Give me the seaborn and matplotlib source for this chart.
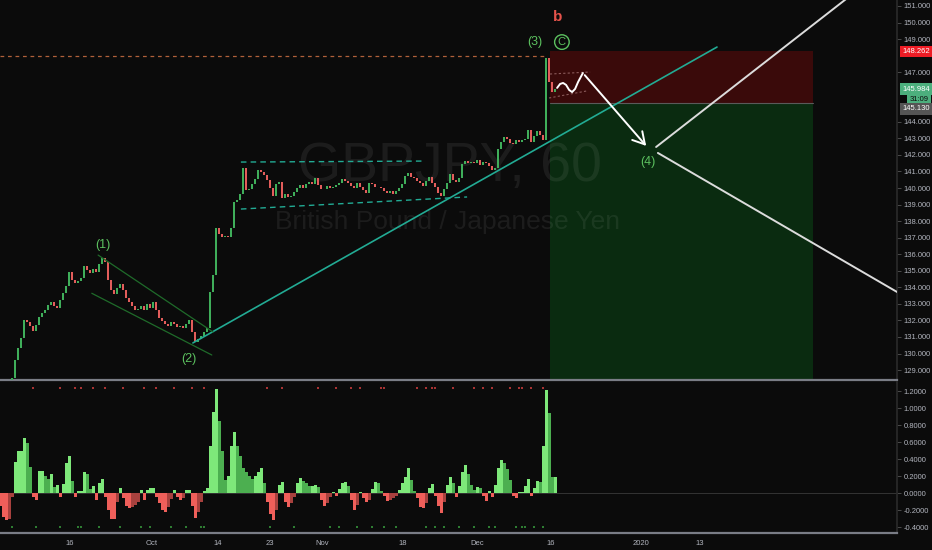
import numpy as np
import pandas as pd
import matplotlib
matplotlib.use("Agg")
import matplotlib.pyplot as plt
import matplotlib.transforms as mtransforms
from matplotlib.ticker import FormatStrFormatter
import seaborn as sns

# GBPJPY 60 -- closes, one value every ~3 px (x = bar index)
close = [128.20, 128.00, 127.90, 128.30, 128.52, 129.61, 130.33, 130.94, 132.03, 131.91,
         131.67, 131.36, 131.72, 132.21, 132.45, 132.63, 132.93, 133.11, 132.87, 132.75,
         133.24, 133.66, 134.08, 134.93, 134.44, 134.26, 134.38, 134.56, 135.29, 135.05,
         134.87, 135.11, 134.93, 135.41, 135.77, 135.53, 134.44, 133.84, 133.60, 133.96,
         134.20, 133.84, 133.36, 133.11, 132.87, 132.63, 132.69, 132.87, 132.63, 132.99,
         132.75, 133.11, 132.63, 132.15, 131.97, 131.79, 131.67, 131.91, 131.79, 131.60,
         131.67, 131.54, 131.79, 132.03, 131.30, 130.70, 130.88, 131.06, 131.30, 131.54,
         133.72, 134.75, 137.59, 137.22, 137.04, 137.10, 137.04, 137.59, 139.16, 139.28,
         139.64, 141.21, 139.88, 139.94, 140.24, 140.55, 141.09, 140.97, 140.79, 140.49,
         140.00, 139.52, 140.24, 140.37, 139.40, 139.64, 139.46, 139.52, 139.76, 140.00,
         140.18, 140.00, 140.24, 140.37, 140.24, 140.61, 140.18, 139.94, 139.94, 140.12,
         140.00, 140.06, 140.18, 140.31, 140.55, 140.43, 140.31, 140.12, 140.00, 140.31,
         140.06, 139.88, 139.70, 140.31, 140.24, 140.06, 140.06, 140.00, 139.82, 139.70,
         139.82, 139.64, 139.82, 140.00, 140.24, 140.73, 140.91, 140.67, 140.61, 140.43,
         140.31, 140.12, 140.43, 140.67, 140.31, 140.06, 139.70, 139.52, 139.94, 140.31,
         140.85, 140.49, 140.37, 140.61, 141.45, 141.63, 141.51, 141.57, 141.51, 141.69,
         141.39, 141.57, 141.51, 141.33, 141.09, 141.21, 142.36, 142.78, 143.08, 142.96,
         142.72, 142.66, 142.90, 142.78, 142.90, 142.96, 143.51, 142.78, 143.14, 143.45,
         143.21, 142.90, 147.86, 146.41, 145.80, 145.98]

# momentum histogram in the lower pane, same bars
osc = [-0.15, -0.28, -0.32, -0.30, -0.05, 0.37, 0.49, 0.50, 0.65, 0.59,
       0.31, -0.05, -0.08, 0.26, 0.26, 0.20, 0.17, 0.22, 0.07, 0.10,
       -0.05, 0.11, 0.35, 0.44, 0.14, -0.05, 0.02, 0.02, 0.25, 0.22,
       0.05, 0.08, -0.08, 0.12, 0.17, -0.05, -0.20, -0.30, -0.30, -0.10,
       0.06, -0.06, -0.15, -0.18, -0.16, -0.14, -0.10, 0.03, -0.08, 0.04,
       0.06, 0.06, -0.05, -0.12, -0.20, -0.22, -0.17, -0.07, 0.04, -0.05,
       -0.08, -0.06, 0.03, 0.04, -0.15, -0.29, -0.22, -0.10, 0.02, 0.06,
       0.55, 0.95, 1.22, 0.85, 0.50, 0.15, 0.20, 0.55, 0.72, 0.55,
       0.43, 0.30, 0.25, 0.20, 0.16, 0.20, 0.25, 0.29, 0.12, -0.10,
       -0.25, -0.32, -0.20, 0.10, 0.13, -0.10, -0.16, -0.12, -0.05, 0.12,
       0.18, 0.14, 0.12, 0.08, 0.08, 0.09, 0.07, -0.08, -0.15, -0.12,
       -0.05, 0.01, -0.03, 0.05, 0.12, 0.13, 0.08, -0.08, -0.20, -0.14,
       0.01, -0.06, -0.10, -0.08, 0.05, 0.13, 0.12, 0.02, -0.03, -0.09,
       -0.08, -0.06, -0.04, 0.04, 0.12, 0.19, 0.30, 0.15, 0.02, -0.06,
       -0.16, -0.18, -0.12, 0.06, 0.11, -0.03, -0.15, -0.24, -0.10, 0.10,
       0.19, 0.12, -0.05, 0.08, 0.25, 0.33, 0.22, 0.10, 0.04, 0.07,
       0.06, -0.04, -0.09, 0.02, -0.05, 0.10, 0.30, 0.39, 0.35, 0.28,
       0.15, -0.04, -0.06, 0.01, 0.01, 0.08, 0.17, -0.04, 0.06, 0.14,
       0.13, 0.55, 1.21, 0.94, 0.19, 0.19]

# little signal dots (bar indices)
red_dots = [11, 20, 25, 27, 31, 35, 41, 48, 52, 58, 64, 68, 89, 94, 106, 112, 117,
            120, 127, 128, 139, 142, 144, 145, 151, 158, 161, 164, 170, 173, 174, 177, 181]
green_dots = [4, 12, 20, 26, 27, 33, 40, 47, 50, 57, 62, 67, 68, 90, 98, 110, 113,
              119, 124, 128, 132, 142, 145, 148, 153, 158, 163, 165, 172, 174, 175, 178, 181]

date_ticks = [23.3, 50.5, 72.7, 90.0, 107.3, 134.3, 159.0, 183.7, 213.7, 233.3]
date_labels = ["16", "Oct", "14", "23", "Nov", "18", "Dec", "16", "2020", "13"]
# 145, 146 and 148 sit under the price tags on the scale
price_ticks = [129, 130, 131, 132, 133, 134, 135, 136, 137, 138, 139, 140,
               141, 142, 143, 144, 147, 149, 150, 151]
osc_ticks = [-0.4, -0.2, 0.0, 0.2, 0.4, 0.6, 0.8, 1.0, 1.2]

stop_level = 148.262
entry_level = 145.130
last_price = 145.984
high_level = 147.98

# projected path drawn on the chart (bar, price)
wave_x = [185.7, 186.7, 187.7, 188.7, 189.7, 190.7, 191.7, 192.7, 194.3]
wave_y = [146.05, 146.29, 146.35, 146.23, 145.93, 145.80, 145.99, 146.41, 146.95]

bg = "#0b0b0b"
up_col = "#3fae5a"
dn_col = "#e35d5b"
lbl_green = "#5cc15f"
txt_col = "#b2b5be"

sns.set_theme(style="dark", rc={"axes.facecolor": bg, "figure.facecolor": bg,
                                "axes.grid": False, "axes.edgecolor": "#333333"})
plt.rcParams["font.family"] = ["Liberation Sans", "DejaVu Sans"]

fig = plt.figure(figsize=(9.32, 5.5), dpi=100)
ax = fig.add_axes([0, 170 / 550, 897 / 932, 380 / 550])
ax2 = fig.add_axes([0, 17 / 550, 897 / 932, 151 / 550])

x = np.arange(len(close))
c = np.array(close)
o = np.r_[c[0], c[:-1]]

# ---- price pane ----
ax.set_xlim(0, 299)
ax.set_ylim(128.40, 151.3625)

# risk / reward boxes
ax.fill_between([183.3, 271], entry_level, stop_level, color="#3a0a0a", lw=0, zorder=1)
ax.fill_between([183.3, 271], 128.0, entry_level, color="#0a2b10", lw=0, zorder=1)
ax.plot([183.3, 271], [entry_level, entry_level], color="#5a5a5a", lw=0.8, zorder=1)

ax.text(150, 141.3, "GBPJPY, 60", ha="center", va="center", fontsize=40,
        color="white", alpha=0.07, zorder=2)
ax.text(149.3, 137.95, "British Pound / Japanese Yen", ha="center", va="center",
        fontsize=19, color="white", alpha=0.07, zorder=2)

ax.bar(x, c - o, bottom=o, width=0.85, color=np.where(c >= o, up_col, dn_col),
       linewidth=0, zorder=3)

ax.plot([0, 181.7], [high_level, high_level], color="#b0603a", lw=0.9,
        ls=(0, (3, 3)), zorder=2)

# trend lines
sns.lineplot(x=[64.3, 239], y=[130.64, 148.52], color="#22ab94", lw=1.2, ax=ax, zorder=4)
ax.plot([32.7, 71], [135.95, 131.30], color="#1f6b2a", lw=0.9, zorder=4)
ax.plot([30.6, 70.6], [133.64, 129.91], color="#1f6b2a", lw=0.9, zorder=4)
ax.plot([80.3, 141.7], [141.57, 141.63], color="#22ab94", lw=1.0, ls=(0, (4, 3)), zorder=4)
ax.plot([80.3, 155.7], [138.73, 139.46], color="#22ab94", lw=1.0, ls=(0, (4, 3)), zorder=4)
ax.plot([183.3, 196.7], [146.89, 147.01], color="#8a5a5a", lw=0.8, ls=(0, (2, 2)), zorder=4)
ax.plot([183.0, 195.7], [145.44, 145.87], color="#8a5a5a", lw=0.8, ls=(0, (2, 2)), zorder=4)

ax.plot(wave_x, wave_y, color="white", lw=1.4, zorder=5)
ax.annotate("", xy=(216, 142.42), xytext=(194.3, 146.95),
            arrowprops=dict(arrowstyle="->,head_length=0.7,head_width=0.4",
                            color="white", lw=1.4), zorder=5)
ax.plot([218.7, 283.3], [142.48, 151.6], color="#dcdcdc", lw=1.4, zorder=5)
ax.plot([219.3, 299], [142.12, 133.72], color="#dcdcdc", lw=1.4, zorder=5)

# wave labels
ax.text(34.3, 136.56, "(1)", color=lbl_green, fontsize=9, ha="center", va="center")
ax.text(63.0, 129.67, "(2)", color=lbl_green, fontsize=9, ha="center", va="center")
ax.text(178.3, 148.82, "(3)", color=lbl_green, fontsize=9, ha="center", va="center")
ax.text(187.3, 148.80, "C", color=lbl_green, fontsize=8, ha="center", va="center")
ax.scatter([187.3], [148.82], s=110, facecolors="none", edgecolors=lbl_green, linewidths=1)
ax.text(216.0, 141.57, "(4)", color=lbl_green, fontsize=9, ha="center", va="center")
ax.text(186.0, 150.34, "b", color="#e5534b", fontsize=11, fontweight="bold",
        ha="center", va="center")

ax.yaxis.tick_right()
ax.set_yticks(price_ticks)
ax.yaxis.set_major_formatter(FormatStrFormatter("%.3f"))
ax.tick_params(axis="y", colors="#555555", labelcolor=txt_col, labelsize=5.5,
               length=3, width=0.6, pad=2)
ax.tick_params(axis="x", bottom=False, labelbottom=False)
for s in ["left", "top"]:
    ax.spines[s].set_visible(False)
ax.spines["right"].set_color("#2a2a2a")
ax.spines["bottom"].set_color("#7a7d86")
ax.spines["bottom"].set_linewidth(1.6)

trans = mtransforms.blended_transform_factory(ax.transAxes, ax.transData)
tag = dict(transform=trans, fontsize=5.5, va="center", ha="left", zorder=10)
ax.text(1.006, stop_level, "148.262", color="white",
        bbox=dict(boxstyle="square,pad=0.3", fc="#ee1c25", ec="none"), **tag)
ax.text(1.006, last_price, "145.984", color="white",
        bbox=dict(boxstyle="square,pad=0.3", fc="#4caf7d", ec="none"), **tag)
ax.text(1.014, 145.32, "31:09", color="#0b0b0b",
        bbox=dict(boxstyle="square,pad=0.3", fc="#4caf7d", ec="none"), **tag)
ax.text(1.006, 144.78, "145.130", color="white",
        bbox=dict(boxstyle="square,pad=0.3", fc="#555555", ec="none"), **tag)

# ---- oscillator pane ----
osc_a = np.array(osc)
prev = np.r_[osc_a[0], osc_a[:-1]]
tone = np.where(osc_a >= 0, np.where(osc_a >= prev, "up1", "up2"),
                np.where(osc_a <= prev, "dn1", "dn2"))
df = pd.DataFrame({"bar": x, "osc": osc_a, "tone": tone})
pal = {"up1": "#7ee87a", "up2": "#4caf50", "dn1": "#ef5f5a", "dn2": "#a8413e"}
sns.barplot(data=df, x="bar", y="osc", hue="tone", palette=pal, native_scale=True,
            width=1.0, dodge=False, legend=False, saturation=1, linewidth=0,
            errorbar=None, ax=ax2)
ax2.axhline(0, color="#3a3a3a", lw=0.6, zorder=0)
ax2.scatter(red_dots, [1.235] * len(red_dots), s=1.5, marker="s", color="#a83232",
            linewidths=0)
ax2.scatter(green_dots, [-0.40] * len(green_dots), s=1.5, marker="s", color="#2e7d32",
            linewidths=0)

ax2.set_xlim(0, 299)
ax2.set_ylim(-0.47, 1.306)
ax2.set_xlabel("")
ax2.set_ylabel("")
ax2.yaxis.tick_right()
ax2.set_yticks(osc_ticks)
ax2.yaxis.set_major_formatter(FormatStrFormatter("%.4f"))
ax2.tick_params(axis="y", colors="#555555", labelcolor=txt_col, labelsize=5.5,
                length=3, width=0.6, pad=2)
ax2.set_xticks(date_ticks)
ax2.set_xticklabels(date_labels)
ax2.tick_params(axis="x", colors=txt_col, labelsize=5.5, length=0, pad=5)
for s in ["left", "top"]:
    ax2.spines[s].set_visible(False)
ax2.spines["right"].set_color("#2a2a2a")
ax2.spines["bottom"].set_color("#7a7d86")
ax2.spines["bottom"].set_linewidth(1.6)

fig.savefig("out.png", dpi=100, facecolor=bg)
